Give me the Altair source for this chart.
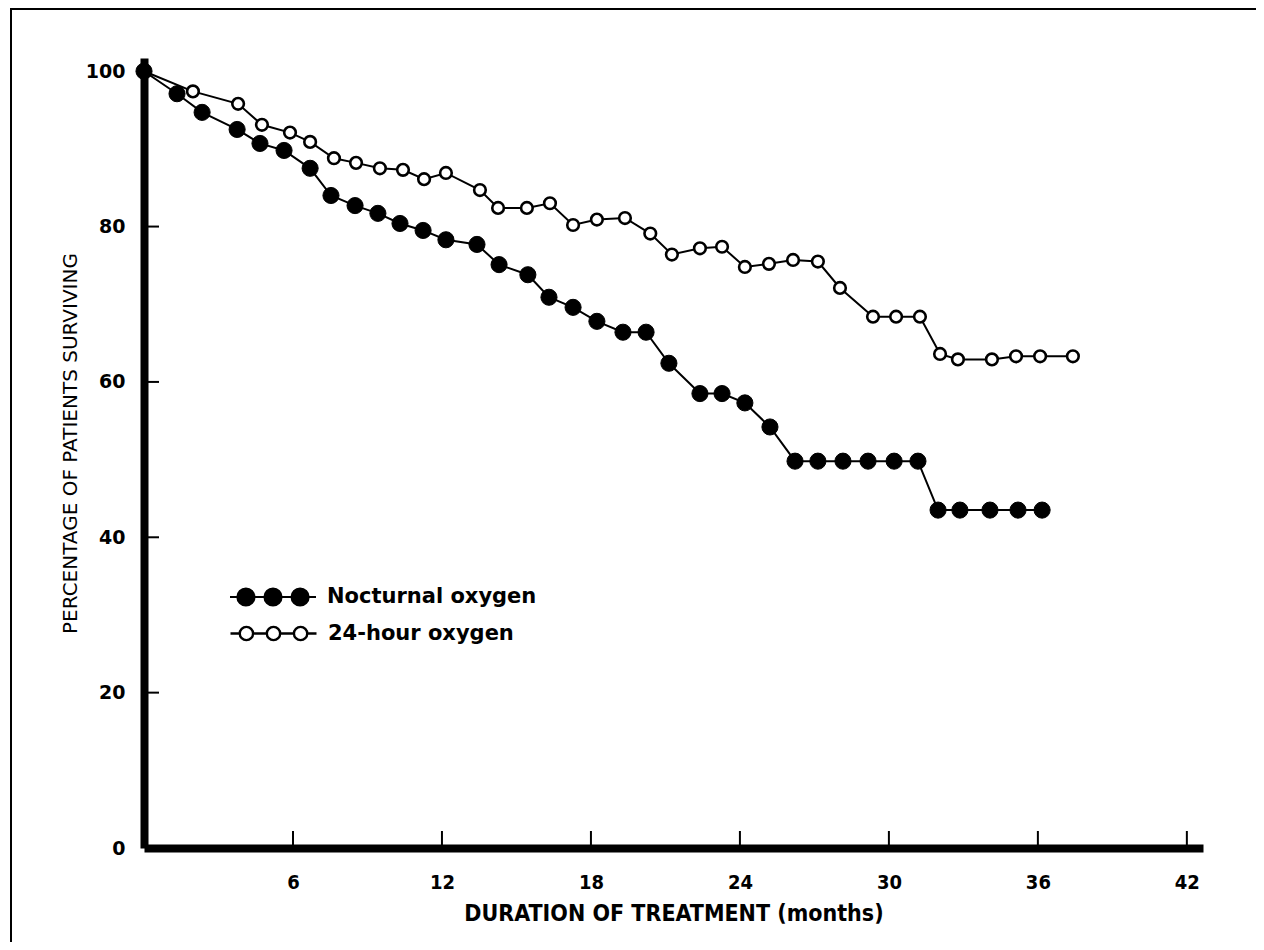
import altair as alt
import pandas as pd

# ---------------- data ----------------
noct_month = [0, 1.33, 2.34, 3.75, 4.67, 5.64, 6.69, 7.53, 8.50, 9.42,
              10.31, 11.24, 12.16, 13.41, 14.30, 15.46, 16.31, 17.28, 18.24, 19.29,
              20.22, 21.14, 22.39, 23.28, 24.20, 25.21, 26.22, 27.14, 28.15, 29.16,
              30.21, 31.17, 31.98, 32.86, 34.07, 35.20, 36.17]
noct_pct = [100, 97.1, 94.7, 92.5, 90.7, 89.8, 87.5, 84.0, 82.7, 81.7,
            80.4, 79.5, 78.3, 77.7, 75.1, 73.8, 70.9, 69.6, 67.8, 66.4,
            66.4, 62.4, 58.5, 58.5, 57.3, 54.2, 49.8, 49.8, 49.8, 49.8,
            49.8, 49.8, 43.5, 43.5, 43.5, 43.5, 43.5]

full_month = [0, 1.97, 3.79, 4.75, 5.88, 6.69, 7.65, 8.54, 9.50, 10.43,
              11.28, 12.16, 13.53, 14.26, 15.42, 16.35, 17.28, 18.24, 19.37, 20.39,
              21.26, 22.39, 23.28, 24.20, 25.17, 26.14, 27.14, 28.03, 29.36, 30.29,
              31.25, 32.06, 32.78, 34.15, 35.12, 36.09, 37.41]
full_pct = [100, 97.4, 95.8, 93.1, 92.1, 90.9, 88.8, 88.2, 87.5, 87.3,
            86.1, 86.9, 84.7, 82.4, 82.4, 83.0, 80.2, 80.9, 81.1, 79.1,
            76.4, 77.2, 77.4, 74.8, 75.2, 75.7, 75.5, 72.1, 68.4, 68.4,
            68.4, 63.6, 62.9, 62.9, 63.3, 63.3, 63.3]

series_names = ["Nocturnal oxygen", "24-hour oxygen"]
x_ticks = [6, 12, 18, 24, 30, 36, 42]
y_ticks = [0, 20, 40, 60, 80, 100]
y_minor = [20, 40, 60, 80]
x_title = "DURATION OF TREATMENT (months)"
y_title = "PERCENTAGE OF PATIENTS SURVIVING"

# ---------------- tables ----------------
df = pd.concat([
    pd.DataFrame({"month": noct_month, "pct": noct_pct, "series": series_names[0]}),
    pd.DataFrame({"month": full_month, "pct": full_pct, "series": series_names[1]}),
], ignore_index=True)
xt = pd.DataFrame({"month": x_ticks})
yt = pd.DataFrame({"pct": y_minor})
one = pd.DataFrame({"a": [0]})

W, H = 1059, 790
PAD = {"left": 136, "top": 50, "right": 53, "bottom": 94}

xs = alt.Scale(domain=[0, 42.65], nice=False, zero=False)
ys = alt.Scale(domain=[0, 101.7], nice=False, zero=False)

NARROW = "Liberation Sans Narrow, DejaVu Sans Condensed, Arial Narrow, sans-serif"

x_axis = alt.Axis(values=x_ticks, ticks=False, tickSize=0, grid=False,
                  domainColor="black", domainWidth=8,
                  labelFont=NARROW, labelFontSize=20, labelFontWeight="bold",
                  labelColor="black", labelPadding=24,
                  title=x_title, titleFont=NARROW, titleFontSize=23,
                  titleFontWeight="bold", titleColor="black",
                  titleX=W / 2, titleY=65, titleAlign="center", titleBaseline="middle")
y_axis = alt.Axis(values=y_ticks, ticks=False, tickSize=0, grid=False,
                  domainColor="black", domainWidth=8,
                  labelFont="DejaVu Sans, sans-serif", labelFontSize=19,
                  labelFontWeight="bold", labelColor="black", labelPadding=19,
                  title=y_title, titleFont="DejaVu Sans, sans-serif", titleFontSize=20,
                  titleFontWeight="normal", titleColor="black",
                  titleX=-74, titleY=385, titleAngle=270,
                  titleAlign="center", titleBaseline="middle")


def legend_path(r=0.2, centers=(-0.63, 0.0, 0.63)):
    parts = []
    pts = [-1.0]
    for c in centers:
        pts += [c - r, c + r]
    pts.append(1.0)
    for i in range(0, len(pts), 2):
        parts.append(f"M{pts[i]:.3f},0L{pts[i+1]:.3f},0")
    for c in centers:
        parts.append(f"M{c - r:.3f},0A{r},{r},0,1,0,{c + r:.3f},0"
                     f"A{r},{r},0,1,0,{c - r:.3f},0Z")
    return "".join(parts)


LEG = dict(orient="none", legendX=85, title=None, symbolSize=7396,
           symbolStrokeColor="black",
           labelFont="DejaVu Sans, sans-serif", labelFontSize=21,
           labelFontWeight="bold", labelColor="black",
           labelOffset=10, padding=0, labelLimit=0)

fill_enc = alt.Fill(
    "series:N",
    scale=alt.Scale(domain=[series_names[0]], range=["black"]),
    legend=alt.Legend(legendY=495, symbolType=legend_path(0.2),
                      symbolStrokeWidth=2, **LEG),
)
stroke_enc = alt.Stroke(
    "series:N",
    scale=alt.Scale(domain=[series_names[1]], range=["black"]),
    legend=alt.Legend(legendY=531, symbolType=legend_path(0.155),
                      symbolFillColor="white", symbolStrokeWidth=2.4, **LEG),
)

base = alt.Chart(df).encode(
    x=alt.X("month:Q", scale=xs, axis=x_axis),
    y=alt.Y("pct:Q", scale=ys, axis=y_axis),
)

line_full = base.transform_filter(alt.datum.series == series_names[1]).mark_line(
    color="black", strokeWidth=2)
line_noct = base.transform_filter(alt.datum.series == series_names[0]).mark_line(
    color="black", strokeWidth=2)

pts_full = base.transform_filter(alt.datum.series == series_names[1]).mark_point(
    shape="circle", filled=False, fill="white", strokeWidth=2.6, size=135, opacity=1
).encode(stroke=stroke_enc)
pts_noct = base.transform_filter(alt.datum.series == series_names[0]).mark_point(
    shape="circle", filled=True, stroke="black", strokeWidth=1, size=260, opacity=1
).encode(fill=fill_enc)

xtick_marks = alt.Chart(xt).mark_rule(color="black", strokeWidth=2).encode(
    x=alt.X("month:Q", scale=xs), y=alt.datum(0), y2=alt.value(H - 17))
ytick_marks = alt.Chart(yt).mark_rule(color="black", strokeWidth=2).encode(
    y=alt.Y("pct:Q", scale=ys), x=alt.datum(0, scale=xs), x2=alt.value(15))

frame_left = alt.Chart(one).mark_rule(color="black", strokeWidth=2).encode(
    x=alt.value(-133), y=alt.value(-50), y2=alt.value(H + PAD["bottom"]))
frame_top = alt.Chart(one).mark_rule(color="black", strokeWidth=2).encode(
    y=alt.value(-49), x=alt.value(-133), x2=alt.value(W + PAD["right"]))

chart = alt.layer(
    frame_left, frame_top, xtick_marks, ytick_marks,
    line_full, pts_full, line_noct, pts_noct,
).properties(
    width=W, height=H, padding=PAD,
    autosize=alt.AutoSizeParams(type="none"),
    background="white",
).configure_view(stroke=None)

chart.save("out.html", embed_options={"renderer": "svg", "actions": False})
